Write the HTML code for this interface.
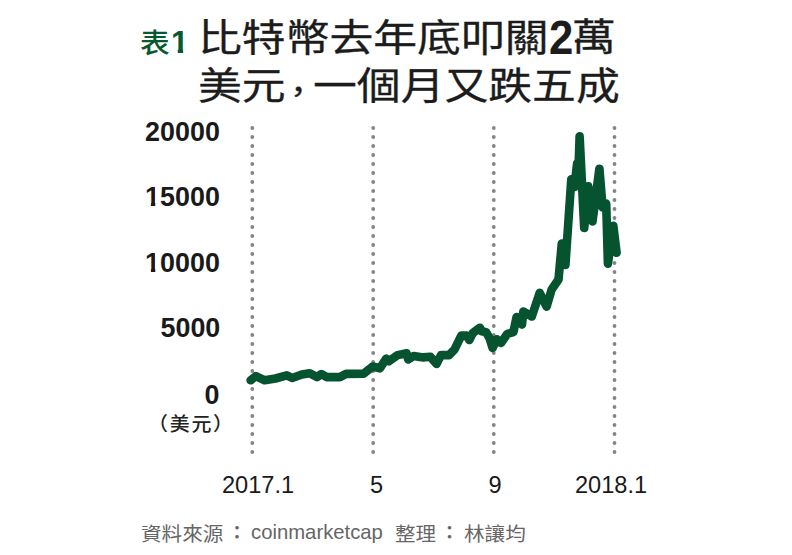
<!DOCTYPE html>
<html lang="zh-Hant">
<head>
<meta charset="utf-8">
<title>表1 比特幣去年底叩關2萬美元，一個月又跌五成</title>
<style>
html,body{margin:0;padding:0;background:#fff;}
body{width:792px;height:555px;position:relative;overflow:hidden;
  font-family:"Liberation Sans","Noto Sans CJK TC",sans-serif;color:#1a1a1a;}
.abs{position:absolute;white-space:nowrap;line-height:1;}
.tag{left:139.5px;top:30.8px;font-size:27px;font-weight:500;color:#07592f;transform:scaleX(1.1);transform-origin:0 0;}
.tag1{left:171px;top:27.3px;font-size:31.5px;font-weight:700;color:#07592f;}
.t{font-size:38px;font-weight:400;-webkit-text-stroke:0.3px #1c1c1c;color:#1c1c1c;transform:scaleX(1.153);transform-origin:0 0;}
.t2{font-size:47.5px;font-weight:700;color:#1c1c1c;transform:scaleX(0.92);transform-origin:0 0;}
.yl{right:572px;font-size:28px;font-weight:700;color:#1a1a1a;transform:scaleX(0.96);transform-origin:100% 0;}
.unit{left:147.5px;top:415px;font-size:19px;font-weight:500;color:#222;transform:scaleX(1.05);transform-origin:0 0;letter-spacing:1.67px;}
.xl{top:474.2px;font-size:23.6px;color:#1a1a1a;}
.src{top:521px;font-size:20px;color:#666;}
.cj{top:525.9px;font-size:18.8px;transform:scaleX(1.095);transform-origin:0 0;}
.cl{top:523.8px;font-size:18px;font-weight:700;}
svg{position:absolute;left:0;top:0;}
.ob{display:inline-block;line-height:1;}
.ob{clip-path:polygon(0 0,0.385em 0,0.385em 100%,0.215em 100%,0.215em 0.70em,0 0.70em);}
.tag1 .ob{clip-path:polygon(0 0,0.385em 0,0.385em 100%,0.215em 100%,0.215em 0.68em,0 0.68em);}
</style>
</head>
<body>
<div class="abs tag">表</div><div class="abs tag1"><span class="ob">1</span></div>
<div class="abs t" style="left:198px;top:18.6px">比特幣去年底叩關</div>
<div class="abs t2" style="left:549.3px;top:13.8px">2</div>
<div class="abs t" style="left:572px;top:18.4px">萬</div>
<div class="abs t" style="left:198px;top:67.2px">美元</div>
<div class="abs t" style="left:281px;top:77px;font-size:30px">，</div>
<div class="abs t" style="left:312.5px;top:67.2px">一個月又跌五成</div>

<div class="abs yl" style="top:117.8px">20000</div>
<div class="abs yl" style="top:183px"><span class="ob">1</span>5000</div>
<div class="abs yl" style="top:249px"><span class="ob">1</span>0000</div>
<div class="abs yl" style="top:314px">5000</div>
<div class="abs yl" style="top:380.7px">0</div>
<div class="abs unit">（美元）</div>

<svg width="792" height="555" viewBox="0 0 792 555">
  <g stroke="#858585" stroke-width="3.8" stroke-linecap="round" stroke-dasharray="0 9" fill="none">
    <line x1="252.3" y1="128" x2="252.3" y2="453"/>
    <line x1="373.2" y1="128" x2="373.2" y2="453"/>
    <line x1="493.8" y1="128" x2="493.8" y2="453"/>
    <line x1="614.5" y1="128" x2="614.5" y2="453"/>
  </g>
  <polyline fill="none" stroke="#05542f" stroke-width="8.6" stroke-linecap="round" stroke-linejoin="round"
   points="250.6,380.3 255.9,376.2 264.7,380.3 275.4,378.5 286.8,375.4 292.1,378 301.9,374.5 309.8,373.2 316.9,377.1 321.3,374.1 326.6,377.1 339.9,377.1 346.1,373.9 363.7,373.6 372.6,366.5 380,368.3 386.2,358.6 388.9,361.3 397.7,355.1 406.5,353.3 408.3,359.5 413.6,356 423.3,357.4 430.4,356.8 436.6,363.9 441,355.1 449,355.1 454.3,349.8 461.3,335.6 466.6,335.6 469.3,340 472.8,333 479.9,327.7 481.7,331.2 486.1,332.1 489.6,338.3 492.6,348 496.7,339.2 501,343 507.4,333.8 513.4,332.2 516.6,317 522,324.6 523.3,311.6 531.8,316.5 539.7,292.8 546.6,306.6 551.6,289.6 558.5,279.5 561.8,243.5 565.4,265 571.3,179.2 574.5,187 577.1,163.4 578.6,166.5 579.6,136.3 584.2,228 588.2,186.3 592.5,221.4 599.4,168.7 602.6,207.5 606.2,203.6 607.9,263.6 613.3,225.7 616.6,252.8"/>
</svg>

<div class="abs xl" style="left:222px">2017.1</div>
<div class="abs xl" style="left:370px">5</div>
<div class="abs xl" style="left:488.6px">9</div>
<div class="abs xl" style="left:575px">2018.1</div>
<div class="abs src cj" style="left:140.6px">資料來源</div>
<div class="abs src cl" style="left:227.9px">：</div>
<div class="abs src" style="left:251px;top:521.8px;font-size:20.3px">coinmarketcap</div>
<div class="abs src cj" style="left:394.8px">整理</div>
<div class="abs src cl" style="left:440.6px">：</div>
<div class="abs src cj" style="left:464.4px">林讓均</div>
</body>
</html>
